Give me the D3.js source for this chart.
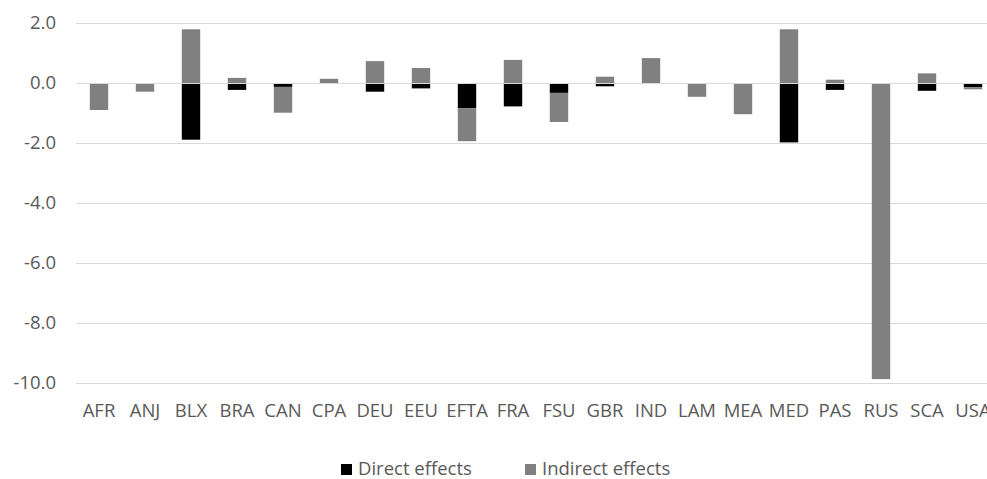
<!DOCTYPE html>
<html>
<head>
<meta charset="utf-8">
<script src="https://cdn.jsdelivr.net/npm/d3@7"></script>
<style>
  html, body { margin: 0; padding: 0; background: #fff; }
  svg { display: block; }
  text { font-family: "Open Sans", "Noto Sans", sans-serif; fill: #595959; }
</style>
</head>
<body>
<svg id="chart" width="987" height="479"></svg>
<script>
const categories = ["AFR","ANJ","BLX","BRA","CAN","CPA","DEU","EEU","EFTA","FRA","FSU","GBR","IND","LAM","MEA","MED","PAS","RUS","SCA","USA"];
const directEffects   = [0, 0, -1.89, -0.23, -0.13, 0, -0.29, -0.18, -0.84, -0.78, -0.33, -0.11, 0, 0, 0, -1.98, -0.23, 0, -0.26, -0.14];
const indirectEffects = [-0.90, -0.29, 1.79, 0.17, -0.86, 0.14, 0.73, 0.50, -1.10, 0.77, -0.97, 0.21, 0.83, -0.46, -1.04, 1.79, 0.11, -9.87, 0.32, -0.07];
const yTicks = [2, 0, -2, -4, -6, -8, -10];
const seriesNames = ["Direct effects", "Indirect effects"];
const seriesColors = ["#000000", "#808080"];

const svg = d3.select("#chart");
const x = d3.scaleBand().domain(categories).range([76, 996]).paddingInner(0.6).paddingOuter(0.3);
const y = d3.scaleLinear().domain([-10, 2]).range([383, 23]);

// gridlines
svg.append("g").selectAll("line").data(yTicks).join("line")
  .attr("x1", 76).attr("x2", 996)
  .attr("y1", d => Math.round(y(d)) + 0.5).attr("y2", d => Math.round(y(d)) + 0.5)
  .attr("stroke", "#d9d9d9").attr("stroke-width", 1.2);

// y tick labels
svg.append("g").selectAll("text").data(yTicks).join("text")
  .attr("x", 56).attr("y", d => y(d)).attr("dy", "0.35em")
  .attr("text-anchor", "end").attr("font-size", 18.5)
  .text(d => d3.format(".1f")(d).replace("−", "-"));

// stacked bars (Excel-style: positives stack up, negatives stack down)
const series = [directEffects, indirectEffects];
categories.forEach((c, i) => {
  let pos = 0, neg = 0;
  series.forEach((s, k) => {
    const v = s[i];
    if (v === 0) return;
    let y0, y1;
    if (v > 0) { y0 = pos; y1 = pos + v; pos = y1; }
    else { y0 = neg; y1 = neg + v; neg = y1; }
    svg.append("rect")
      .attr("x", x(c)).attr("width", x.bandwidth())
      .attr("y", y(Math.max(y0, y1)))
      .attr("height", Math.abs(y(y0) - y(y1)))
      .attr("fill", seriesColors[k]);
  });
});

// zero line over bars
svg.append("line").attr("x1", 76).attr("x2", 996)
  .attr("y1", Math.round(y(0)) + 0.5).attr("y2", Math.round(y(0)) + 0.5)
  .attr("stroke", "#d9d9d9").attr("stroke-width", 1.2);

// category labels
svg.append("g").selectAll("text").data(categories).join("text")
  .attr("x", d => x(d) + x.bandwidth() / 2).attr("y", 417)
  .attr("text-anchor", "middle").attr("font-size", 18.5)
  .text(d => d);

// legend
const legendX = [341, 525];
const lg = svg.append("g");
seriesNames.forEach((n, k) => {
  lg.append("rect").attr("x", legendX[k]).attr("y", 464).attr("width", 11).attr("height", 11)
    .attr("fill", seriesColors[k]);
  lg.append("text").attr("x", legendX[k] + 17).attr("y", 475)
    .attr("font-size", 18.5).text(n);
});
</script>
</body>
</html>
